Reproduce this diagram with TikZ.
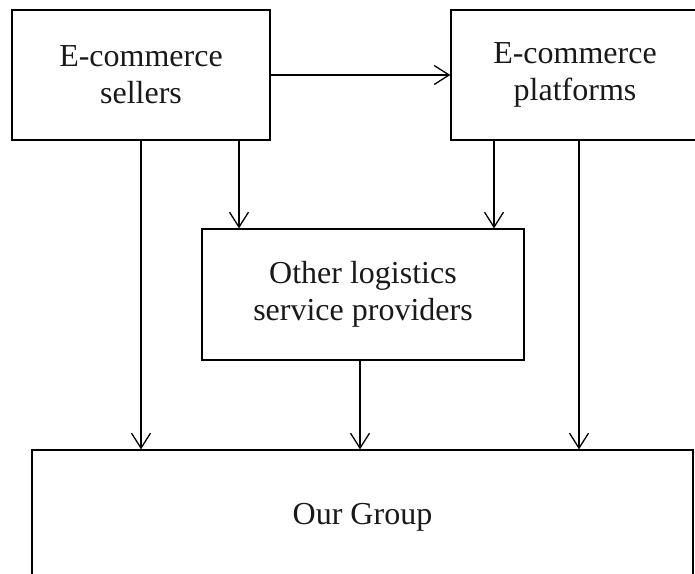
\documentclass[tikz,border=0pt]{standalone}
\usepackage{fontspec}
\setmainfont{Liberation Serif}
\usetikzlibrary{arrows.meta}
\begin{document}
\begin{tikzpicture}[x=1pt,y=-1pt,
  box/.style={draw, line width=1.3pt, align=center, inner sep=0pt,
    font=\fontsize{32}{37}\selectfont, text=black!90},
  arr/.style={line width=1.3pt, -{Straight Barb[length=15pt,width=19pt,line width=1.3pt]}}]
  \useasboundingbox (0,0) rectangle (695,573);
  \clip (0,0) rectangle (695,573);
  % upper row
  \node[box, minimum width=258pt, minimum height=130pt] (sellers) at (141,75)
    {E-commerce\\sellers};
  \node[box, minimum width=248pt, minimum height=130pt] (platforms) at (575,75)
    {E-commerce\\platforms};
  % middle box
  \node[box, minimum width=322pt, minimum height=131pt] (other) at (363,294.5)
    {Other logistics\\service providers};
  % bottom box, running past the lower edge
  \node[box, minimum width=661pt, minimum height=134pt] (group) at (362.5,517)
    {Our Group};
  % connectors
  \draw[arr] (sellers.east) -- (platforms.west);
  \draw[arr] (sellers.south) -- (sellers.south |- group.north);
  \draw[arr] (sellers.south -| 239,0) -- (other.north -| 239,0);
  \draw[arr] (platforms.south -| 494,0) -- (other.north -| 494,0);
  \draw[arr] (platforms.south -| 579,0) -- (group.north -| 579,0);
  \draw[arr] (other.south -| 360,0) -- (group.north -| 360,0);
\end{tikzpicture}
\end{document}
